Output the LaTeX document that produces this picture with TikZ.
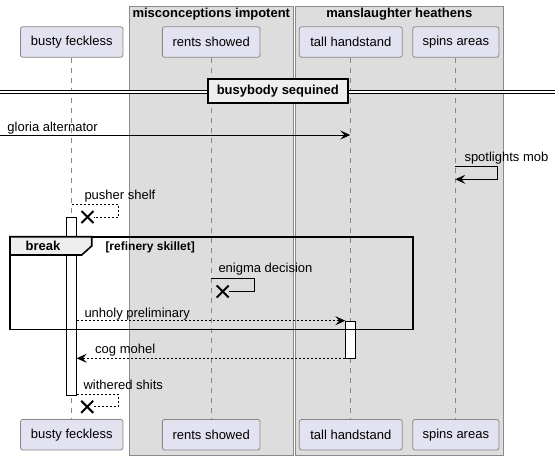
\documentclass[tikz,border=0pt]{standalone}
\usepackage{fontspec}
\setmainfont{Liberation Sans}
\usetikzlibrary{arrows.meta,shapes.misc}
\definecolor{partfill}{HTML}{E2E2F0}
\definecolor{partline}{HTML}{888888}
\definecolor{grpfill}{HTML}{DDDDDD}
\definecolor{grpline}{HTML}{8A8A8A}
\definecolor{tabfill}{HTML}{EEEEEE}
\tikzset{
  part/.style={draw=partline, fill=partfill, rounded corners=2.5pt, minimum height=30.6pt, inner sep=0pt, line width=0.8pt, font=\fontsize{13}{15}\selectfont},
  life/.style={draw=partline, dash pattern=on 5pt off 5pt, line width=0.8pt},
  msg/.style={draw=black, line width=0.9pt},
  dmsg/.style={msg, dash pattern=on 2pt off 2pt},
  tip/.style={-{Stealth[length=10pt,width=9pt,inset=4pt]}},
  lbl/.style={anchor=base west, inner sep=0pt, font=\fontsize{13}{15}\selectfont},
  grp/.style={draw=grpline, fill=grpfill, line width=0.9pt},
  grptitle/.style={anchor=base, inner sep=0pt, font=\bfseries\fontsize{13}{15}\selectfont},
  actbar/.style={draw=black, fill=white, line width=0.9pt, inner sep=0pt, minimum width=10pt},
  xmark/.style={cross out, draw=black, line width=2pt, inner sep=0pt, minimum size=10pt},
}
\begin{document}
\begin{tikzpicture}[x=1pt,y=-1pt]
\useasboundingbox (0,0) rectangle (560,460);
% groups
\draw[grp] (129.3,6) rectangle (293.3,455);
\draw[grp] (295.3,6) rectangle (503.3,455);
\node[grptitle] (g1) at (211.3,18) {misconceptions impotent};
\node[grptitle] (g2) at (399.3,18) {manslaughter heathens};
% participants
\node[part, minimum width=102.6pt] (bfT) at (71.7,42) {busty feckless};
\node[part, minimum width=97.7pt] (rsT) at (211.2,42) {rents showed};
\node[part, minimum width=103pt] (thT) at (350.8,42) {tall handstand};
\node[part, minimum width=86.3pt] (saT) at (455.8,42) {spins areas};
\node[part, minimum width=102.6pt] (bfB) at (71.7,434.7) {busty feckless};
\node[part, minimum width=97.7pt] (rsB) at (211.2,434.7) {rents showed};
\node[part, minimum width=103pt] (thB) at (350.8,434.7) {tall handstand};
\node[part, minimum width=86.3pt] (saB) at (455.8,434.7) {spins areas};
% lifelines
\draw[life] (bfT) -- (bfB);
\draw[life] (rsT) -- (rsB);
\draw[life] (thT) -- (thB);
\draw[life] (saT) -- (saB);
% divider
\coordinate (dvL) at (0,92);
\coordinate (dvR) at (555,92);
\draw[line width=0.9pt, double=white, double distance=2pt] (dvL) -- (dvR);
\node[draw=black, fill=tabfill, line width=1.8pt, minimum width=140pt, minimum height=24pt, inner sep=0pt, font=\bfseries\fontsize{13}{15}\selectfont] (dv) at (277.8,91) {busybody sequined};
% gloria alternator
\coordinate (ga1) at (0,135);
\coordinate (ga2) at (350.3,135);
\draw[msg,tip] (ga1) -- (ga2);
\node[lbl] (gaL) at (7.3,131.1) {gloria alternator};
% spotlights mob
\coordinate (sm1) at (455.3,166.7);
\coordinate (sm2) at (455.3,179.3);
\draw[msg,tip] (sm1) -- ++(42,0) |- (sm2);
\node[lbl] (smL) at (464.3,161.1) {spotlights mob};
% activation bars
\node[actbar, minimum height=177.7pt] (bfA) at (71.7,306.2) {};
\node[actbar, minimum height=37.3pt] (thA) at (350.5,339.65) {};
% pusher shelf
\coordinate (ps1) at (71.6,204.3);
\node[xmark] (x1) at (87.5,217) {};
\draw[dmsg] (ps1) -- ++(46.7,0) |- (x1);
\node[lbl] (psL) at (84.3,199.4) {pusher shelf};
% enigma decision
\coordinate (ed1) at (211.3,278.7);
\node[xmark] (x2) at (222.7,291.5) {};
\draw[msg] (ed1) -- ++(42.7,0) |- (x2);
\node[lbl] (edL) at (218.3,272.7) {enigma decision};
% unholy preliminary
\coordinate (up1) at (76.7,320.7);
\coordinate (up2) at (345.3,320.7);
\draw[dmsg,tip] (up1) -- (up2);
\node[lbl] (upL) at (84.3,317) {unholy preliminary};
% cog mohel
\coordinate (cm1) at (345.3,358.3);
\coordinate (cm2) at (76.7,358.3);
\draw[dmsg,tip] (cm1) -- (cm2);
\node[lbl] (cmL) at (95,353.7) {cog mohel};
% withered shits
\coordinate (ws1) at (76.7,394.3);
\node[xmark] (x3) at (87.2,406.8) {};
\draw[dmsg] (ws1) -- ++(41.6,0) |- (x3);
\node[lbl] (wsL) at (83.3,389.4) {withered shits};
% break frame
\draw[line width=1.6pt] (10,236.7) rectangle (412.7,329.3);
\draw[line width=1.6pt, fill=tabfill] (10,236.7) -- (91.7,236.7) -- (91.7,246) -- (81.7,255) -- (10,255) -- cycle;
\node[grptitle] (brk) at (43,250.5) {break};
\node[anchor=base west, inner sep=0pt, font=\bfseries\fontsize{12}{14}\selectfont] (grd) at (105.3,250.5) {[refinery skillet]};
\end{tikzpicture}
\end{document}
